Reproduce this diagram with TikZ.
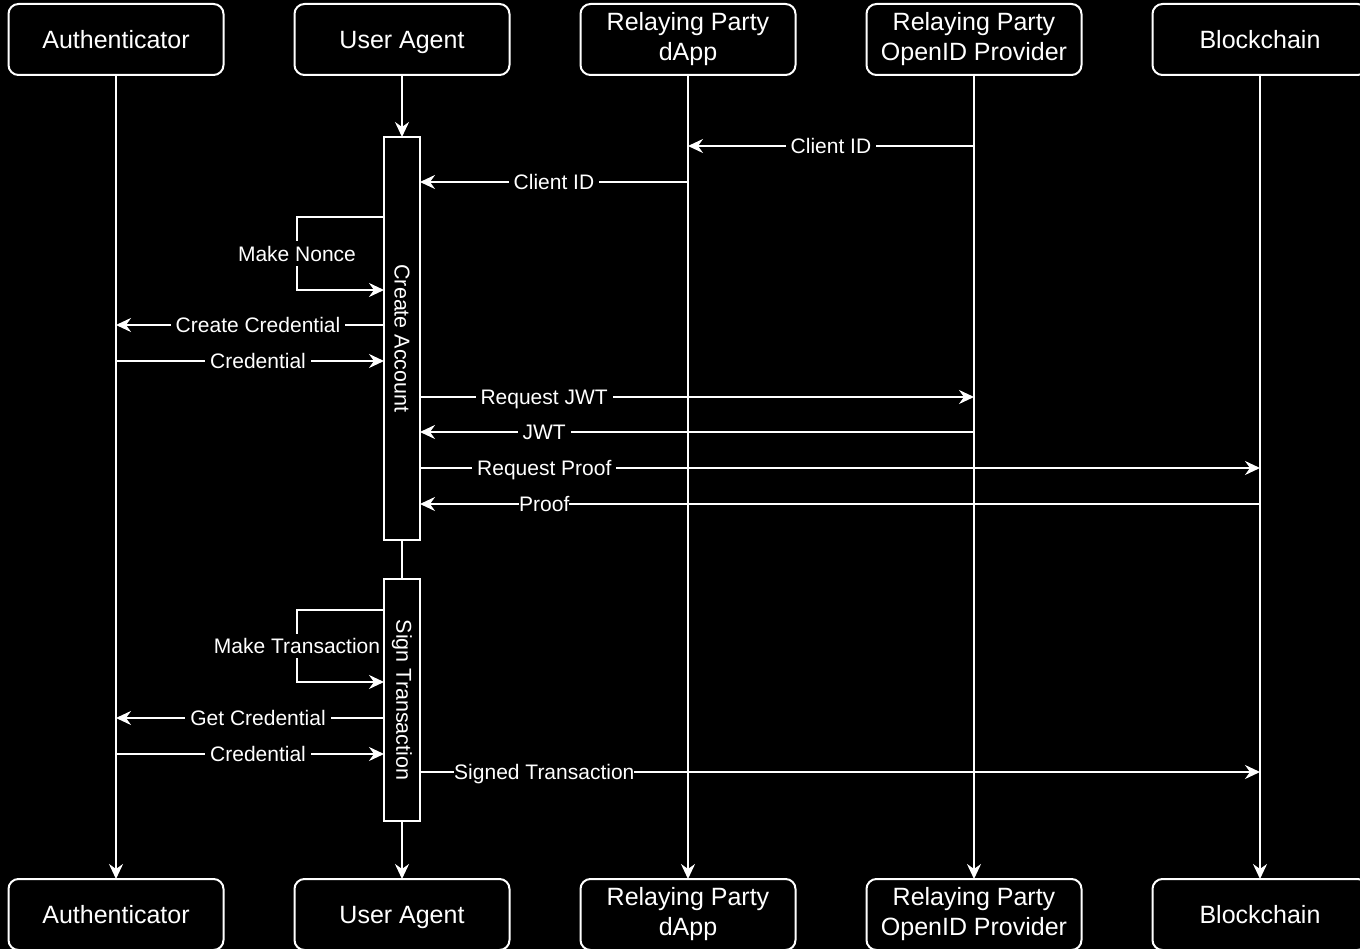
\documentclass[tikz,border=0pt]{standalone}
\usepackage{fontspec}
\setmainfont{Liberation Sans}
\usetikzlibrary{arrows.meta,positioning}
\newcommand\capstrut{\rule[-0.23em]{0pt}{1.18em}}
\tikzset{
  actor/.style={draw=white, rounded corners=10pt, line width=2pt, fill=black, text=white,
              minimum width=215pt, minimum height=71pt, outer sep=0pt, align=center,
              font=\fontsize{25}{30}\selectfont,
              execute at begin node=\capstrut, execute at end node=\capstrut},
  activ/.style={draw=white, line width=2pt, fill=black, minimum width=36pt, outer sep=0pt},
  vtext/.style={text=white, rotate=-90, font=\fontsize{21.5}{24}\selectfont},
  msg/.style={-{Stealth[length=15pt,width=14pt,inset=5pt]}, white, line width=2pt},
  life/.style={white, line width=2pt},
  lbl/.style={fill=black, text=white, inner xsep=5pt, inner ysep=0pt,
              font=\fontsize{21}{24}\selectfont, execute at begin node=\capstrut},
}

\begin{document}
\begin{tikzpicture}[x=1pt, y=-1pt, node distance=71pt]
        \fill[black] (0,0) rectangle (1360,949);
        \useasboundingbox (0,0) rectangle (1360,949);
        \clip (0,0) rectangle (1360,949);
        % participants
        \node[actor] (authT) at (116,39.5) {Authenticator};
        \node[actor,right=of authT] (uaT) {User Agent};
        \node[actor,right=of uaT] (dappT) {Relaying Party\\dApp};
        \node[actor,right=of dappT] (opT) {Relaying Party\\OpenID Provider};
        \node[actor,right=of opT] (bcT) {Blockchain};
        \node[actor,below=804pt of authT] (authB) {Authenticator};
        \node[actor,right=of authB] (uaB) {User Agent};
        \node[actor,right=of uaB] (dappB) {Relaying Party\\dApp};
        \node[actor,right=of dappB] (opB) {Relaying Party\\OpenID Provider};
        \node[actor,right=of opB] (bcB) {Blockchain};
        % activations
        \node[activ, minimum height=403pt] (act1) at (402,338.5) {};
        \node[activ, minimum height=242pt] (act2) at (402,700) {};
        \node[vtext] at (act1) {Create Account};
        \node[vtext] at (act2) {Sign Transaction};
        % lifelines
        \draw[msg](authT)--(authB);
        \draw[msg](uaT)--(act1);
        \draw[life](act1)--(act2);
        \draw[msg](act2)--(uaB);
        \draw[msg](dappT)--(dappB);
        \draw[msg](opT)--(opB);
        \draw[msg](bcT)--(bcB);
        % message rows
        \coordinate (cid1) at (0,146);
        \coordinate (cid2) at (0,182);
        \coordinate (nc1) at (0,217);
        \coordinate (nc2) at (0,290);
        \coordinate (cc) at (0,325);
        \coordinate (cr1) at (0,361);
        \coordinate (rj) at (0,397);
        \coordinate (jw) at (0,432);
        \coordinate (rp) at (0,468);
        \coordinate (pf) at (0,504);
        \coordinate (tx1) at (0,610);
        \coordinate (tx2) at (0,682);
        \coordinate (gc) at (0,718);
        \coordinate (cr2) at (0,754);
        \coordinate (st) at (0,772);
        % account creation
        \draw[msg](opT |- cid1)--node[lbl,pos=0.5]{Client ID}(dappT |- cid1);
        \draw[msg](dappT |- cid2)--node[lbl,pos=0.5]{Client ID}(act1.east |- cid2);
        \draw[msg](act1.west |- nc1)--++(-87,0)|-node[lbl,pos=0.25]{Make Nonce}(act1.west |- nc2);
        \draw[msg](act1.west |- cc)--node[lbl,pos=0.47]{Create Credential}(authT |- cc);
        \draw[msg](authT |- cr1)--node[lbl,pos=0.53]{Credential}(act1.west |- cr1);
        \draw[msg](act1.east |- rj)--node[lbl,pos=0.224]{Request JWT}(opT |- rj);
        \draw[msg](opT |- jw)--node[lbl,pos=0.776]{JWT}(act1.east |- jw);
        \draw[msg](act1.east |- rp)--node[lbl,pos=0.148]{Request Proof}(bcT |- rp);
        \draw[msg](bcT |- pf)--node[lbl,pos=0.852,inner xsep=0pt]{Proof}(act1.east |- pf);
        % signing
        \draw[msg](act2.west |- tx1)--++(-87,0)|-node[lbl,pos=0.25,inner xsep=1pt]{Make Transaction}(act2.west |- tx2);
        \draw[msg](act2.west |- gc)--node[lbl,pos=0.47]{Get Credential}(authT |- gc);
        \draw[msg](authT |- cr2)--node[lbl,pos=0.53]{Credential}(act2.west |- cr2);
        \draw[msg](act2.east |- st)--node[lbl,pos=0.148,inner xsep=0pt]{Signed Transaction}(bcT |- st);
      \end{tikzpicture}
\end{document}
